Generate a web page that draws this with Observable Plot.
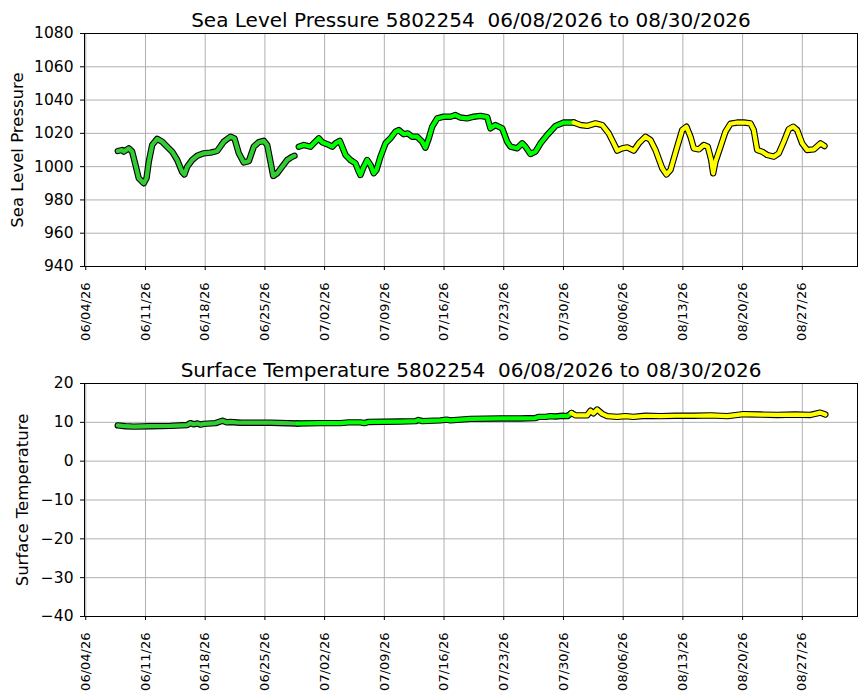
<!DOCTYPE html>
<html>
<head>
<meta charset="utf-8">
<script src="https://cdn.jsdelivr.net/npm/d3@7"></script>
<script src="https://cdn.jsdelivr.net/npm/@observablehq/plot@0.6"></script>
<style>
  body { margin: 0; background: #fff; }
  #chart { width: 867px; font-family: "DejaVu Sans", sans-serif; }
  #chart svg { display: block; }
</style>
</head>
<body>
<div id="chart"></div>
<script>
// ---------- data (time = days since 2026-06-01 00:00 UTC) ----------
const buoyId = "5802254";
const dateRange = "06/08/2026 to 08/30/2026";

const segmentNames = ["early", "mid", "late"];
const segmentColors = ["#32cd32", "#00ff00", "#ffff00"];

// Sea level pressure
const slpTime1 = [6.75, 7.27, 7.45, 8.04, 8.44, 8.83, 9.21, 9.80, 10.12, 10.39, 10.78, 11.37, 11.96, 12.54, 13.13, 13.72, 14.30, 14.57, 14.89, 15.47, 16.06, 16.83, 17.62, 18.40, 19.18, 19.96, 20.43, 20.94, 21.52, 22.11, 22.70, 23.28, 23.87, 24.27, 24.65, 24.97, 25.44, 26.02, 26.61, 27.20, 27.47];
const slpValue1 = [1009.4, 1010, 1009, 1011, 1009, 1001, 993, 990, 993, 1003, 1013, 1016.7, 1015, 1012, 1009, 1004, 996.8, 995.3, 1000, 1004, 1006.5, 1008, 1008.4, 1009.4, 1015, 1018, 1017, 1008, 1002.5, 1003.3, 1012, 1014.7, 1015.5, 1013, 1003, 994.4, 996, 1000, 1004, 1006, 1006.5];

const slpTime2 = [27.97, 28.56, 29.34, 29.73, 30.32, 30.71, 31.30, 31.89, 32.27, 32.78, 33.06, 33.45, 34.03, 34.62, 35.00, 35.20, 35.59, 35.99, 36.38, 36.76, 37.08, 37.55, 38.14, 38.72, 39.31, 39.69, 40.28, 40.75, 41.26, 41.85, 42.44, 42.82, 43.21, 43.61, 44.20, 44.97, 45.76, 46.34, 46.93, 47.71, 48.49, 49.27, 50.06, 50.44, 51.03, 51.82, 52.40, 52.79, 53.58, 54.16, 54.55, 55.13, 55.72, 56.31, 57.09, 58.07, 59.04, 60.21];
const slpValue2 = [1012, 1013, 1012, 1014, 1017, 1014.7, 1013.5, 1012, 1014, 1015.5, 1012, 1007, 1004, 1002, 997, 995, 1000, 1004, 1001, 996, 998, 1006, 1014, 1017, 1021, 1022, 1019.5, 1020, 1018, 1018, 1015, 1011.4, 1017, 1024, 1029, 1030, 1030, 1031, 1029.5, 1029, 1030, 1030.5, 1029.8, 1023, 1025, 1023, 1015, 1012, 1011, 1014, 1012, 1007.6, 1009, 1014, 1019, 1024.5, 1026.5, 1026.5];

const slpTime3 = [60.21, 61.00, 61.79, 62.76, 63.54, 64.31, 64.90, 65.30, 65.88, 66.47, 67.24, 67.83, 68.61, 69.20, 69.79, 70.58, 71.08, 71.55, 72.34, 72.92, 73.42, 73.89, 74.28, 74.87, 75.45, 75.92, 76.32, 76.55, 76.82, 77.41, 77.99, 78.58, 79.36, 80.14, 80.92, 81.31, 81.71, 82.30, 82.88, 83.66, 84.24, 84.83, 85.41, 85.93, 86.40, 86.98, 87.57, 88.35, 89.13, 89.60];
const slpValue3 = [1026.5, 1025, 1024.5, 1026, 1025, 1020, 1014, 1009.6, 1011, 1011.6, 1009.6, 1014, 1018, 1016, 1010, 999, 995.3, 998, 1012, 1022, 1024, 1018, 1011, 1010.4, 1013, 1012, 1004, 996, 1003, 1012, 1021, 1025.8, 1026.5, 1026.5, 1026, 1022, 1010, 1009, 1007, 1006, 1008, 1015, 1022.5, 1024, 1022, 1014, 1010, 1010.4, 1014, 1012.4];

// Surface temperature
const sstTime1 = [6.75, 7.65, 8.63, 10.59, 12.93, 14.89, 15.27, 15.63, 16.10, 16.45, 16.80, 18.21, 19.03, 19.50, 19.96, 21.14, 22.89, 24.65, 27.82];
const sstValue1 = [9.2, 9.0, 8.9, 9.0, 9.1, 9.3, 9.8, 9.5, 9.7, 9.4, 9.6, 9.8, 10.4, 10.0, 10.1, 9.9, 9.9, 9.9, 9.7];

const sstTime2 = [27.82, 30.52, 32.86, 33.80, 35.20, 35.67, 36.14, 39.89, 41.65, 42.00, 42.47, 44.58, 45.29, 45.75, 48.10, 51.61, 53.96, 55.72, 56.07, 56.89, 57.48, 58.06, 58.88, 59.47, 59.94];
const sstValue2 = [9.7, 9.8, 9.8, 10.0, 10.0, 9.8, 10.1, 10.2, 10.3, 10.6, 10.3, 10.5, 10.7, 10.5, 10.9, 11.0, 11.0, 11.1, 11.4, 11.4, 11.6, 11.5, 11.7, 11.6, 12.4];

const sstTime3 = [59.94, 60.41, 61.78, 62.17, 62.52, 62.95, 63.54, 64.13, 65.30, 66.27, 67.21, 68.61, 70.37, 72.13, 74.24, 76.24, 78.23, 80.10, 82.10, 84.07, 86.18, 87.94, 89.11, 89.70];
const sstValue3 = [12.4, 11.8, 11.8, 13.0, 12.3, 13.3, 12.2, 11.6, 11.4, 11.6, 11.4, 11.7, 11.6, 11.7, 11.7, 11.8, 11.6, 12.1, 12.0, 11.9, 12.0, 11.9, 12.5, 12.0];

// Axes
const xTickLabels = ["06/04/26", "06/11/26", "06/18/26", "06/25/26", "07/02/26", "07/09/26", "07/16/26", "07/23/26", "07/30/26", "08/06/26", "08/13/26", "08/20/26", "08/27/26"];
const xDomainDays = [2.85, 93.47];
const slpTicks = [940, 960, 980, 1000, 1020, 1040, 1060, 1080];
const sstTicks = [-40, -30, -20, -10, 0, 10, 20];

// ---------- helpers ----------
const origin = Date.UTC(2026, 5, 1);
const toDate = t => new Date(origin + t * 864e5);
const parseTick = d3.utcParse("%m/%d/%y");
const tickDates = xTickLabels.map(parseTick);
const fmt = d3.utcFormat("%m/%d/%y");
const numFmt = d => (d < 0 ? "\u2212" + Math.abs(d) : String(d));

function rows(times, values, seg) {
  return times.map((t, i) => ({date: toDate(t), value: values[i], seg}));
}

function panel({title, ylabel, labelDx, series, yDomain, yTicks}) {
  const seriesMarks = [];
  series.forEach((data) => {
    seriesMarks.push(Plot.line(data, {x: "date", y: "value", stroke: "#000", strokeWidth: 6.4, strokeLinejoin: "round", strokeLinecap: "round"}));
  });
  series.forEach((data, i) => {
    seriesMarks.push(Plot.line(data, {x: "date", y: "value", stroke: segmentColors[i], strokeWidth: 4.2, strokeLinejoin: "round", strokeLinecap: "round"}));
  });
  return Plot.plot({
    width: 867,
    height: 350,
    marginTop: 33,
    marginBottom: 84,
    marginLeft: 84,
    marginRight: 10,
    style: {fontFamily: "DejaVu Sans", fontSize: "15px", color: "#000", background: "#fff", overflow: "visible"},
    x: {type: "utc", domain: xDomainDays.map(toDate)},
    y: {domain: yDomain},
    marks: [
      Plot.gridX(tickDates, {stroke: "#b0b0b0", strokeOpacity: 1, strokeWidth: 1}),
      Plot.gridY(yTicks, {stroke: "#b0b0b0", strokeOpacity: 1, strokeWidth: 1}),
      ...seriesMarks,
      Plot.frame({stroke: "#000", strokeWidth: 1}),
      Plot.axisX(tickDates, {tickFormat: fmt, tickRotate: -90, fontSize: 13, tickSize: 4, tickPadding: 12, label: null, stroke: "#000"}),
      Plot.axisY(yTicks, {tickFormat: numFmt, tickSize: 4, tickPadding: 7, fontSize: 15.5, label: null, stroke: "#000"}),
      Plot.text([title], {frameAnchor: "top", dy: -21, fontSize: 20, fill: "#000"}),
      Plot.text([ylabel], {frameAnchor: "left", textAnchor: "middle", dx: labelDx, rotate: -90, fontSize: 16.5, fill: "#000"})
    ]
  });
}

const chart = document.getElementById("chart");
chart.append(panel({
  title: `Sea Level Pressure ${buoyId}  ${dateRange}`,
  ylabel: "Sea Level Pressure",
  labelDx: -67,
  series: [rows(slpTime1, slpValue1, segmentNames[0]), rows(slpTime2, slpValue2, segmentNames[1]), rows(slpTime3, slpValue3, segmentNames[2])],
  yDomain: [940, 1080],
  yTicks: slpTicks
}));
chart.append(panel({
  title: `Surface Temperature ${buoyId}  ${dateRange}`,
  ylabel: "Surface Temperature",
  labelDx: -62,
  series: [rows(sstTime1, sstValue1, segmentNames[0]), rows(sstTime2, sstValue2, segmentNames[1]), rows(sstTime3, sstValue3, segmentNames[2])],
  yDomain: [-40, 20],
  yTicks: sstTicks
}));
</script>
</body>
</html>
